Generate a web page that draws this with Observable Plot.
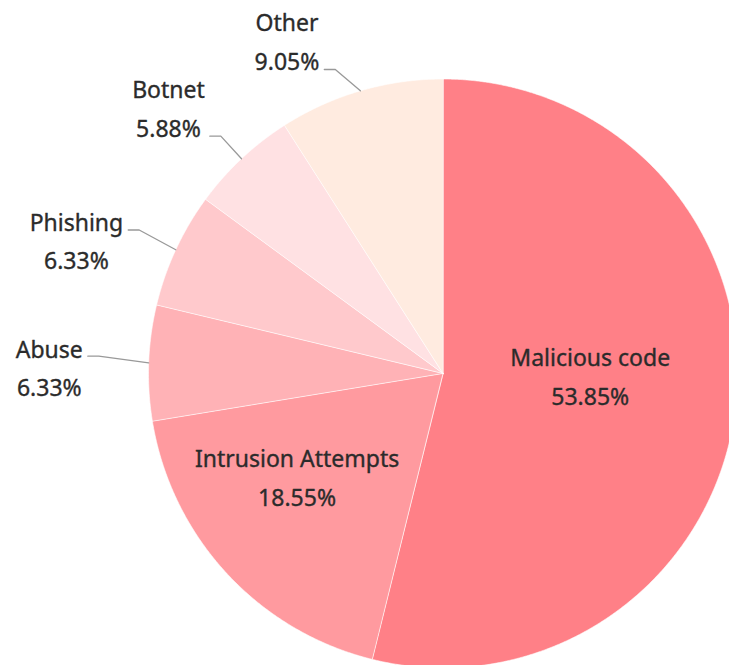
<!DOCTYPE html>
<html>
<head>
<meta charset="utf-8">
<script src="https://cdn.jsdelivr.net/npm/d3@7"></script>
<script src="https://cdn.jsdelivr.net/npm/@observablehq/plot@0.6"></script>
<style>
  html, body { margin: 0; padding: 0; background: #fff; }
  #chart { width: 729px; height: 665px; overflow: hidden; }
</style>
</head>
<body>
<div id="chart"></div>
<script>
// ---- data ----
const categories = ["Malicious code", "Intrusion Attempts", "Abuse", "Phishing", "Botnet", "Other"];
const shares = [53.85, 18.55, 6.33, 6.33, 5.88, 9.05];
const sliceColors = ["#ff8087", "#ff9a9f", "#ffb2b6", "#ffc9cc", "#ffe1e3", "#ffebe0"];
const insideLabel = [true, true, false, false, false, false];

// ---- layout ----
const W = 729, H = 665;
const cx = 442.5, cy = 373, R = 294.5;
const FONT = "Noto Sans, sans-serif";
const FS = 23;

const rows = categories.map((c, i) => ({cat: c, share: shares[i], inside: insideLabel[i]}));
const arcs = d3.pie().sort(null).value(d => d.share).startAngle(0).endAngle(2 * Math.PI)(rows);

// polygon points for slices (unit circle, angle clockwise from top)
const polyPts = [];
arcs.forEach(a => {
  polyPts.push({cat: a.data.cat, x: 0, y: 0});
  const n = Math.max(2, Math.ceil((a.endAngle - a.startAngle) / 0.005));
  for (let k = 0; k <= n; k++) {
    const t = a.startAngle + (a.endAngle - a.startAngle) * k / n;
    polyPts.push({cat: a.data.cat, x: Math.sin(t), y: Math.cos(t)});
  }
});

const canvas = document.createElement("canvas");
const ctx = canvas.getContext("2d");
ctx.font = `${FS}px ${FONT}`;
const tw = s => ctx.measureText(s).width;

const pctText = v => v.toFixed(2) + "%";
const toX = px => (px - cx) / R, toY = py => (cy - py) / R;

const lineSegs = [];
const labels = [];
arcs.forEach(a => {
  const mid = (a.startAngle + a.endAngle) / 2;
  const s = Math.sin(mid), c = Math.cos(mid);
  const d = a.data;
  if (d.inside) {
    const big = d.share > 50;
    const f = big ? 0.5 : 0.61;
    const ang = big ? mid - 0.096 : mid + 0.123;
    const lx = f * Math.sin(ang), ly = f * Math.cos(ang);
    labels.push({x: lx, y: ly, text: d.cat, dy: -19});
    labels.push({x: lx, y: ly, text: pctText(d.share), dy: 20});
  } else {
    const w6 = Math.pow(Math.abs(s), 6);
    const L = 28 + 22 * w6;
    const Rr = R + L;
    let ex = cx + Rr * s, ey = cy - Rr * c - 5 * w6;
    const minY = 69;
    if (ey < minY) { ey = minY; ex = cx - Math.sqrt(Rr * Rr - (cy - ey) * (cy - ey)); }
    const hx = ex - 11;
    lineSegs.push({cat: d.cat, x: s, y: c});
    lineSegs.push({cat: d.cat, x: toX(ex), y: toY(ey)});
    lineSegs.push({cat: d.cat, x: toX(hx), y: toY(ey)});
    const bw = Math.max(tw(d.cat), tw(pctText(d.share)));
    const tx = toX(hx - 5 - bw / 2);
    const upper = c > 0.5;
    labels.push({x: tx, y: toY(ey), text: d.cat, dy: upper ? -46 : -6});
    labels.push({x: tx, y: toY(ey), text: pctText(d.share), dy: upper ? -7 : 32});
  }
});

// Plot.text dy is a constant per mark; one mark per offset group
const groups = {};
labels.forEach(l => { (groups[l.dy] = groups[l.dy] || []).push(l); });
const textMarks = Object.keys(groups).map(k =>
  Plot.text(groups[k], {x: "x", y: "y", text: "text", dy: +k, fill: "#2b2b2b", stroke: "#2b2b2b", strokeWidth: 0.35, fontSize: FS, textAnchor: "middle"})
);

const chart = Plot.plot({
  width: W,
  height: H,
  margin: 0,
  style: {background: "#fff", fontFamily: FONT},
  x: {domain: [-cx / R, (W - cx) / R], range: [0, W], axis: null},
  y: {domain: [-(H - cy) / R, cy / R], range: [H, 0], axis: null},
  color: {domain: categories, range: sliceColors},
  marks: [
    Plot.line(polyPts, {x: "x", y: "y", z: "cat", fill: "cat", stroke: "#fff", strokeWidth: 0.6, curve: "linear-closed"}),
    Plot.line(lineSegs, {x: "x", y: "y", z: "cat", stroke: "#999", strokeWidth: 1.3}),
    ...textMarks
  ]
});
document.getElementById("chart").appendChild(chart);
</script>
</body>
</html>
